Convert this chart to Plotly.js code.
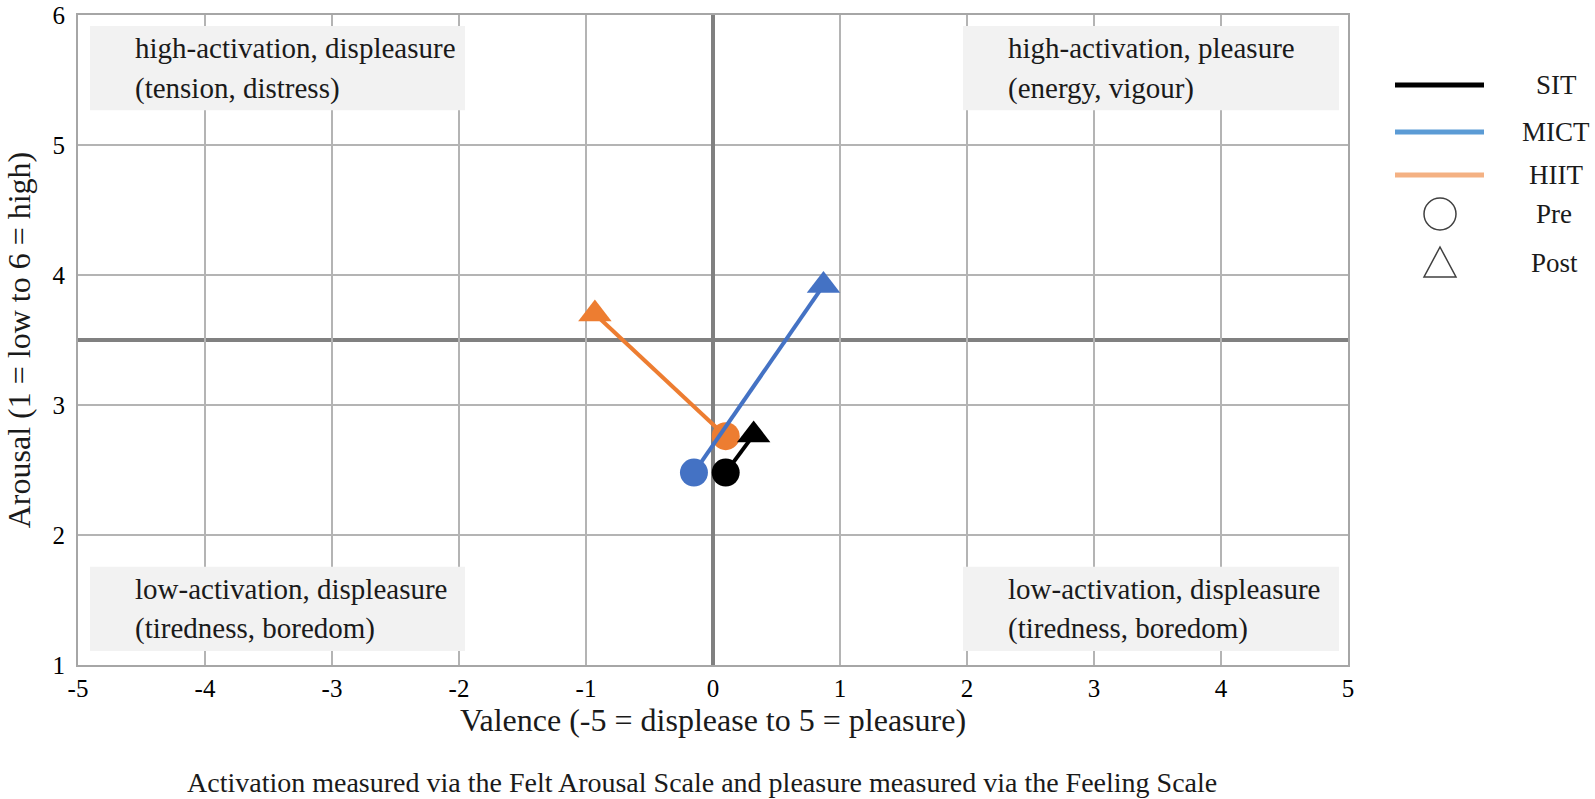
<!DOCTYPE html>
<html>
<head>
<meta charset="utf-8">
<script src="https://cdn.plot.ly/plotly-3.0.1.min.js"></script>
<style>
  html, body { margin: 0; padding: 0; background: #fff; }
  #chart { width: 1595px; height: 799px; }
</style>
</head>
<body>
<div id="chart"></div>
<script>
// Circumplex affect chart: pre -> post means per exercise group

// --- data ---
const GROUPS      = ['SIT', 'MICT', 'HIIT'];
const VALENCE_PRE  = [0.10, -0.15, 0.10];
const VALENCE_POST = [0.32, 0.87, -0.93];
const AROUSAL_PRE  = [2.48, 2.48, 2.76];
const AROUSAL_POST = [2.77, 3.92, 3.70];

const X_TICKS = [-5, -4, -3, -2, -1, 0, 1, 2, 3, 4, 5];
const X_TICK_TEXT = ['-5', '-4', '-3', '-2', '-1', '0', '1', '2', '3', '4', '5'];
const Y_TICKS = [1, 2, 3, 4, 5, 6];

const QUADRANT_LABELS = [
    ['high-activation, displeasure', '(tension, distress)'],
    ['high-activation, pleasure', '(energy, vigour)'],
    ['low-activation, displeasure', '(tiredness, boredom)'],
    ['low-activation, displeasure', '(tiredness, boredom)']
];
const TIME_LABELS = ['Pre', 'Post'];

// --- styles ---
const FONT = 'Liberation Serif, Times New Roman, serif';
const LINE_COLORS   = ['#000000', '#4472c4', '#ed7d31'];
const LEGEND_COLORS = ['#000000', '#5b9bd5', '#f4b183'];
const GRID = '#b4b4b4';
const AXIS_DARK = '#808080';

// plot area in pixels, used for the hand-drawn legend
const M = { l: 78, r: 247, t: 15, b: 134 };
const W = 1595, H = 799;
const PW = W - M.l - M.r, PH = H - M.t - M.b;
const px = (x) => (x - M.l) / PW;
const py = (y) => (H - M.b - y) / PH;

// draw HIIT first, then MICT, then SIT on top
const order = [2, 1, 0];
const traces = order.map(i => ({
    type: 'scatter',
    mode: 'lines+markers',
    name: GROUPS[i],
    x: [VALENCE_PRE[i], VALENCE_POST[i]],
    y: [AROUSAL_PRE[i], AROUSAL_POST[i]],
    line: { color: LINE_COLORS[i], width: 4 },
    marker: {
        symbol: ['circle', 'triangle-up'],
        size: [28, 29],
        color: LINE_COLORS[i],
        opacity: 1,
        line: { width: 0 }
    },
    showlegend: false,
    hoverinfo: 'x+y+name'
}));

// quadrant label boxes (data coords); text lines sit 0.153 above/below the box centre
const boxes = [
    { x0: -4.906, x1: -1.953, y0: 5.267, y1: 5.916, tx: -4.57, ty: 5.59 },
    { x0: 1.969,  x1: 4.929,  y0: 5.267, y1: 5.916, tx: 2.31,  ty: 5.59 },
    { x0: -4.906, x1: -1.953, y0: 1.107, y1: 1.756, tx: -4.57, ty: 1.43 },
    { x0: 1.969,  x1: 4.929,  y0: 1.107, y1: 1.756, tx: 2.31,  ty: 1.43 }
];

const shapes = [
    // horizontal midline of the arousal scale
    { type: 'line', xref: 'paper', yref: 'y', x0: 0, x1: 1, y0: 3.5, y1: 3.5,
      line: { color: AXIS_DARK, width: 4 }, layer: 'below' }
];
boxes.forEach(b => shapes.push({
    type: 'rect', xref: 'x', yref: 'y', x0: b.x0, x1: b.x1, y0: b.y0, y1: b.y1,
    fillcolor: '#f2f2f2', line: { width: 0 }, layer: 'above'
}));

const annotations = [];
QUADRANT_LABELS.forEach((lines, i) => {
    lines.forEach((t, k) => annotations.push({
        xref: 'x', yref: 'y', x: boxes[i].tx, y: boxes[i].ty + (k === 0 ? 0.153 : -0.153),
        text: t, showarrow: false, xanchor: 'left', yanchor: 'middle', align: 'left',
        font: { family: FONT, size: 29, color: '#1a1a1a' }
    }));
});

// legend, drawn by hand to match the wide line swatches
const legendRows = [85, 132, 175, 214, 263];
GROUPS.forEach((g, i) => {
    shapes.push({
        type: 'line', xref: 'paper', yref: 'paper',
        x0: px(1395), x1: px(1484), y0: py(legendRows[i]), y1: py(legendRows[i]),
        line: { color: LEGEND_COLORS[i], width: 5 }
    });
    annotations.push({
        xref: 'paper', yref: 'paper', x: px(1556), y: py(legendRows[i]),
        text: g, showarrow: false, xanchor: 'center', yanchor: 'middle',
        font: { family: FONT, size: 27, color: '#1a1a1a' }
    });
});
shapes.push({
    type: 'circle', xref: 'paper', yref: 'paper',
    xsizemode: 'pixel', ysizemode: 'pixel',
    xanchor: px(1440), yanchor: py(legendRows[3]),
    x0: -16, x1: 16, y0: -16, y1: 16,
    line: { color: '#404040', width: 1.5 }
});
shapes.push({
    type: 'path', xref: 'paper', yref: 'paper',
    xsizemode: 'pixel', ysizemode: 'pixel',
    xanchor: px(1440), yanchor: py(legendRows[4]),
    path: 'M-16,-14 L16,-14 L0,16 Z',
    line: { color: '#404040', width: 1.5 }
});
TIME_LABELS.forEach((t, k) => annotations.push({
    xref: 'paper', yref: 'paper', x: px(1554), y: py(legendRows[3 + k]),
    text: t, showarrow: false, xanchor: 'center', yanchor: 'middle',
    font: { family: FONT, size: 27, color: '#1a1a1a' }
}));

// caption under the axis title
annotations.push({
    xref: 'paper', yref: 'paper', x: px(702), y: py(783),
    text: 'Activation measured via the Felt Arousal Scale and pleasure measured via the Feeling Scale',
    showarrow: false, xanchor: 'center', yanchor: 'middle',
    font: { family: FONT, size: 28, color: '#1a1a1a' }
});

const layout = {
    width: W, height: H,
    margin: M,
    paper_bgcolor: '#ffffff',
    plot_bgcolor: '#ffffff',
    font: { family: FONT, color: '#000000' },
    showlegend: false,
    xaxis: {
        range: [-5.0001, 5.0001],
        tickvals: X_TICKS, ticktext: X_TICK_TEXT,
        showgrid: true, gridcolor: GRID, gridwidth: 2,
        zeroline: true, zerolinecolor: AXIS_DARK, zerolinewidth: 4,
        showline: true, mirror: true, linecolor: '#a6a6a6', linewidth: 2,
        ticks: '', ticklabelstandoff: 0, ticklabeloverflow: 'allow',
        tickfont: { family: FONT, size: 25, color: '#000' },
        title: { text: 'Valence (-5 = displease to 5 = pleasure)', standoff: 4,
                 font: { family: FONT, size: 32, color: '#1a1a1a' } },
        fixedrange: true
    },
    yaxis: {
        range: [0.9999, 6.0001],
        tickvals: Y_TICKS,
        showgrid: true, gridcolor: GRID, gridwidth: 2,
        zeroline: false,
        showline: true, mirror: true, linecolor: '#a6a6a6', linewidth: 2,
        ticks: '', ticklabelstandoff: 6, ticklabeloverflow: 'allow',
        tickfont: { family: FONT, size: 25, color: '#000' },
        title: { text: 'Arousal (1 = low to 6 = high)', standoff: 12,
                 font: { family: FONT, size: 32, color: '#1a1a1a' } },
        fixedrange: true
    },
    shapes,
    annotations
};

Plotly.newPlot('chart', traces, layout, { displayModeBar: false, staticPlot: true });
</script>
</body>
</html>
